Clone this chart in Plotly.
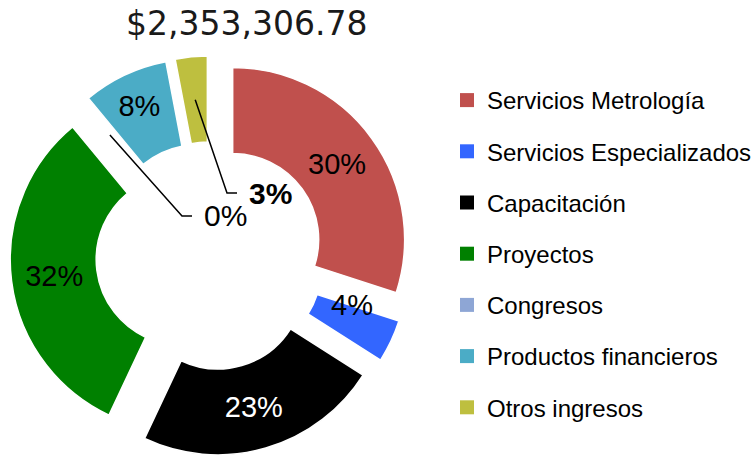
import math
import plotly.graph_objects as go

# ---------------- data ----------------
labels = ["Servicios Metrología", "Servicios Especializados", "Capacitación",
          "Proyectos", "Congresos", "Productos financieros", "Otros ingresos"]
shares = [30, 4, 23, 32, 0, 8, 3]          # percent of total income
colors = ["#C0504D", "#3366FF", "#000000", "#008000", "#8EA6D5", "#4BACC6", "#BEBF3F"]
label_colors = ["#000000", "#000000", "#FFFFFF", "#000000", "#000000", "#000000", "#000000"]
total_label = "$2,353,306.78"

# ---------------- layout constants ----------------
W, H = 754, 456
SANS = "Liberation Sans, Arial, sans-serif"
dom_x = [10 / W, 410 / W]
dom_y = [0.0, 400 / H]
pull = 0.163
hole = 0.5
inside_pos = ["inside", "none", "inside", "inside", "none", "inside", "none"]

# pie geometry in pixels (same rule plotly uses to size a pulled pie)
box = min((dom_x[1] - dom_x[0]) * W, (dom_y[1] - dom_y[0]) * H)
r = box / (2 * (1 + pull))
cx = (dom_x[0] + dom_x[1]) / 2 * W
cy = H - (dom_y[0] + dom_y[1]) / 2 * H
tot = sum(shares)


def slice_point(i, rad):
    start = sum(shares[:i]) / tot
    mid = start + shares[i] / tot / 2
    a = mid * 2 * math.pi
    ax = cx + pull * r * math.sin(a)
    ay = cy - pull * r * math.cos(a)
    return ax + rad * math.sin(a), ay - rad * math.cos(a)


def px2paper(x, y):
    return x / W, 1 - y / H


fig = go.Figure()
fig.add_trace(go.Pie(
    labels=labels, values=shares, sort=False, direction="clockwise", rotation=0,
    hole=hole, pull=[pull] * len(labels),
    marker=dict(colors=colors, line=dict(color="#FFFFFF", width=1.5)),
    texttemplate="%{percent:.0%}", textposition=inside_pos,
    insidetextorientation="horizontal",
    insidetextfont=dict(family=SANS, size=29, color=label_colors),
    domain=dict(x=dom_x, y=dom_y), showlegend=False, hoverinfo="label+percent",
))

# legend entries (one per category, so the vertical gap can be set)
for lab, col in zip(labels, colors):
    fig.add_trace(go.Scatter(x=[None], y=[None], mode="markers", name=lab, legendgroup=lab,
                             marker=dict(symbol="square", size=14, color=col), hoverinfo="skip"))

annotations = []
shapes = []
mid_r = r * (1 + hole) / 2

# small slice labelled in place
i = labels.index("Servicios Especializados")
x, y = slice_point(i, mid_r)
px, py = px2paper(x, y)
annotations.append(dict(x=px, y=py, xref="paper", yref="paper", showarrow=False,
                        text=f"{shares[i]}%", font=dict(family=SANS, size=29, color="#000000")))

# leader-line labels in the hole
callouts = [("Otros ingresos", (247, 193), True), ("Congresos", (202, 216), False)]
for name, (lx, ly), bold in callouts:
    i = labels.index(name)
    sx, sy = slice_point(i, mid_r)
    p0 = px2paper(sx, sy)
    p1 = px2paper(lx - 20, ly)
    p2 = px2paper(lx - 10, ly)
    shapes.append(dict(type="path", xref="paper", yref="paper",
                       path=f"M {p0[0]},{p0[1]} L {p1[0]},{p1[1]} L {p2[0]},{p2[1]}",
                       line=dict(color="#000000", width=1.5)))
    ax_, ay_ = px2paper(lx, ly)
    txt = f"<b>{shares[i]}%</b>" if bold else f"{shares[i]}%"
    annotations.append(dict(x=ax_, y=ay_, xref="paper", yref="paper", showarrow=False,
                            xanchor="left", yanchor="middle", text=txt,
                            font=dict(family=SANS, size=30, color="#000000")))

# total as title
tx, ty = px2paper(246, 24)
annotations.append(dict(x=tx, y=ty, xref="paper", yref="paper", showarrow=False,
                        xanchor="center", yanchor="middle", text=total_label,
                        font=dict(family="DejaVu Sans", size=33, color="#1A1A1A")))

fig.update_layout(
    width=W, height=H, margin=dict(l=0, r=0, t=0, b=0, autoexpand=False),
    paper_bgcolor="#FFFFFF", plot_bgcolor="#FFFFFF",
    xaxis=dict(visible=False), yaxis=dict(visible=False),
    legend=dict(x=447 / W, y=1 - 78 / H, xanchor="left", yanchor="top",
                traceorder="grouped", tracegroupgap=17,
                font=dict(family=SANS, size=24, color="#000000"),
                bgcolor="rgba(0,0,0,0)"),
    annotations=annotations, shapes=shapes,
)

fig.write_html("out.html", config={"displayModeBar": False},
               post_script="document.body.style.margin='0';")
